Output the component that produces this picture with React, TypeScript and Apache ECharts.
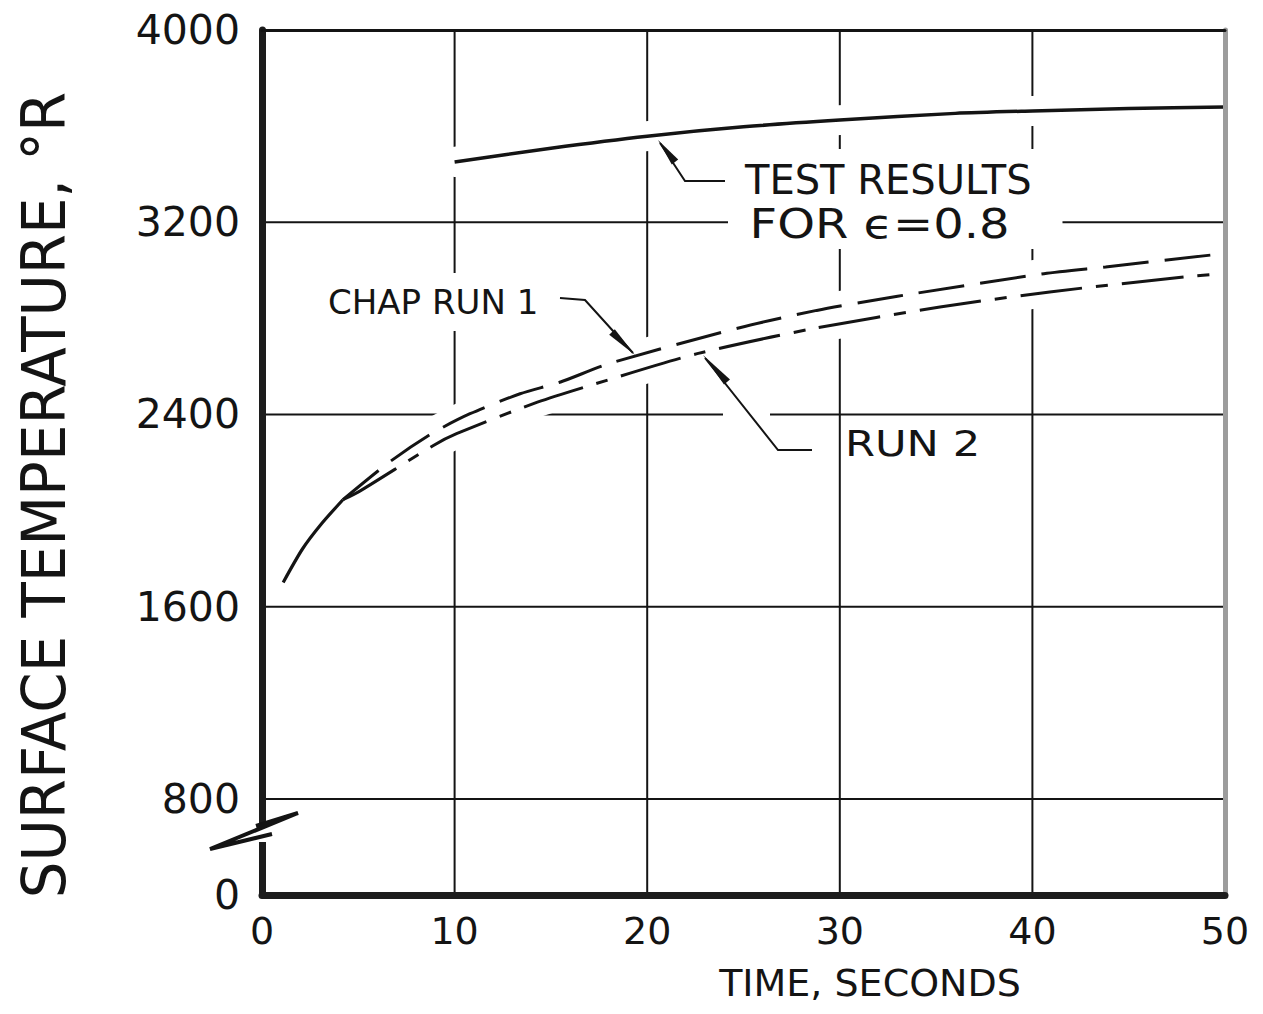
import React, { useEffect, useRef } from 'react';
import * as echarts from 'echarts';

// ---- data ----
const xTicks = [0, 10, 20, 30, 40, 50];
const yTicks = [0, 800, 1600, 2400, 3200, 4000];

// solid "test results for e = 0.8"
const testTime = [10, 15, 20, 25, 30, 36, 40, 45, 50];
const testTemp = [3451, 3508, 3558, 3597, 3625, 3653, 3663, 3673, 3680];

// common solid start of both CHAP runs
const startTime = [1.1, 2.1, 3.1, 4.2];
const startTemp = [1701, 1840, 1946, 2045];

// CHAP run 1 (long dashes)
const run1Time = [4.2, 6.6, 8.8, 10.8, 13.4, 15.5, 18.0, 24.8, 28.8, 33.0, 40.6, 43.8, 50];
const run1Temp = [2045, 2201, 2320, 2403, 2486, 2535, 2611, 2761, 2833, 2892, 2986, 3014, 3070];

// run 2 (dash-dot)
const run2Time = [4.2, 5.1, 8.9, 10.1, 14.3, 17.9, 22.6, 28.6, 35.2, 40.9, 47.9, 50];
const run2Temp = [2045, 2082, 2271, 2320, 2451, 2542, 2653, 2757, 2847, 2910, 2972, 2986];

const zip = (a: number[], b: number[]) => a.map((v, i) => [v, b[i]]);

const INK = '#141414';
const FONT = 'DejaVu Sans';

export default function App() {
  const ref = useRef<HTMLDivElement>(null);

  useEffect(() => {
    if (!ref.current) return;
    const chart = echarts.init(ref.current, undefined, { renderer: 'svg' });

    const yMin = 400; // the broken axis: bottom edge stands for 0
    const xMin = xTicks[0];
    const xMax = xTicks[xTicks.length - 1];
    const yMax = yTicks[yTicks.length - 1];

    // grid lines drawn as series so that the white bands below can interrupt them
    const gridLine = (data: number[][]) => ({
      type: 'line',
      data,
      symbol: 'none',
      showSymbol: false,
      silent: true,
      z: 1,
      lineStyle: { color: INK, width: 2 },
    });
    const hGrid = yTicks
      .filter((v) => v > yMin && v < yMax)
      .map((v) => gridLine([[xMin, v], [xMax, v]]));
    const vGrid = xTicks.slice(1, -1).map((v) => gridLine([[v, yMin], [v, yMax]]));

    // white band under each curve: the hand-drawn grid stops short of the curves
    const halo = (data: number[][]) => ({
      type: 'line',
      data,
      symbol: 'none',
      showSymbol: false,
      smooth: 0.25,
      silent: true,
      z: 2,
      lineStyle: { color: '#ffffff', width: 30, cap: 'round' },
    });

    const curve = (data: number[][], type: any, width: number) => ({
      type: 'line',
      data,
      symbol: 'none',
      showSymbol: false,
      smooth: 0.25,
      silent: true,
      z: 3,
      lineStyle: { color: INK, width, type, cap: 'butt' },
    });

    const testData = zip(testTime, testTemp);
    const startData = zip(startTime, startTemp);
    const run1Data = zip(run1Time, run1Temp);
    const run2Data = zip(run2Time, run2Temp);

    const option: any = {
      animation: false,
      backgroundColor: '#ffffff',
      textStyle: { fontFamily: FONT },
      grid: { left: 262, right: 38, top: 30, bottom: 119, outerBoundsMode: 'none' },
      xAxis: [
        {
          type: 'value',
          z: 10,
          min: xMin,
          max: xMax,
          interval: 10,
          axisLine: { show: true, onZero: false, lineStyle: { color: '#1c1c1c', width: 7 } },
          axisTick: { show: false },
          axisLabel: { fontSize: 38, color: INK, margin: 17, fontFamily: FONT },
          splitLine: { show: false },
        },
        {
          type: 'value',
          z: 10,
          position: 'top',
          min: xMin,
          max: xMax,
          axisLine: { show: true, onZero: false, lineStyle: { color: INK, width: 3 } },
          axisTick: { show: false },
          axisLabel: { show: false },
          splitLine: { show: false },
        },
      ],
      yAxis: [
        {
          type: 'value',
          z: 10,
          min: yMin,
          max: yMax,
          interval: 400,
          axisLine: { show: true, onZero: false, lineStyle: { color: '#1c1c1c', width: 7 } },
          axisTick: { show: false },
          axisLabel: {
            fontSize: 41,
            color: INK,
            margin: 22,
            fontFamily: FONT,
            formatter: (v: number) =>
              v === yMin ? String(yTicks[0]) : yTicks.includes(v) ? String(v) : '',
          },
          splitLine: { show: false },
        },
        {
          type: 'value',
          z: 10,
          position: 'right',
          min: yMin,
          max: yMax,
          interval: 400,
          axisLine: { show: true, onZero: false, lineStyle: { color: '#9c9c9c', width: 5 } },
          axisTick: { show: false },
          axisLabel: { show: false },
          splitLine: { show: false },
        },
      ],
      series: [
        ...hGrid,
        ...vGrid,
        halo(testData),
        halo(startData),
        halo(run1Data),
        halo(run2Data),
        curve(testData, 'solid', 3.5),
        curve(startData, 'solid', 3.2),
        curve(run1Data, [46, 16], 3),
        curve(run2Data, [62, 14, 12, 14], 3),
      ],
      graphic: [
        // axis break on the y axis
        { type: 'rect', z: 100, shape: { x: 254, y: 823, width: 16, height: 19 }, style: { fill: '#ffffff' } },
        {
          type: 'polyline',
          z: 101,
          shape: { points: [[256, 826], [298, 813], [210, 849], [272, 834]] },
          style: { stroke: INK, lineWidth: 4, fill: null, lineJoin: 'miter' },
        },
        // y axis title
        {
          type: 'text',
          z: 100,
          x: 44,
          y: 495,
          rotation: Math.PI / 2,
          scaleX: 1.07,
          scaleY: 1.12,
          style: {
            text: 'SURFACE TEMPERATURE, °R',
            fontSize: 54,
            fontFamily: FONT,
            fill: INK,
            align: 'center',
            verticalAlign: 'middle',
          },
        },
        // x axis title
        {
          type: 'text',
          z: 100,
          x: 870,
          y: 983,
          style: {
            text: 'TIME, SECONDS',
            fontSize: 38,
            fontFamily: FONT,
            fill: INK,
            align: 'center',
            verticalAlign: 'middle',
          },
        },
        // test results annotation
        {
          type: 'text',
          z: 100,
          x: 737,
          y: 180,
          style: {
            text: 'TEST RESULTS',
            fontSize: 40,
            fontFamily: FONT,
            fill: INK,
            align: 'left',
            verticalAlign: 'middle',
            backgroundColor: '#ffffff',
            padding: [18, 8, 4, 8],
          },
        },
        {
          type: 'text',
          z: 100,
          x: 728,
          y: 224,
          scaleX: 1.2,
          style: {
            text: 'FOR ϵ=0.8',
            fontSize: 40,
            fontFamily: FONT,
            fill: INK,
            align: 'left',
            verticalAlign: 'middle',
            backgroundColor: '#ffffff',
            padding: [4, 44, 6, 18],
          },
        },
        {
          type: 'polyline',
          z: 101,
          shape: { points: [[660, 143], [685, 181], [725, 181]] },
          style: { stroke: INK, lineWidth: 2, fill: null },
        },
        {
          type: 'polygon',
          z: 101,
          shape: { points: [[658, 140], [671.8, 164.4], [678.2, 159.6]] },
          style: { fill: INK },
        },
        // CHAP RUN 1 annotation
        {
          type: 'text',
          z: 100,
          x: 324,
          y: 302,
          style: {
            text: 'CHAP RUN 1',
            fontSize: 34,
            fontFamily: FONT,
            fill: INK,
            align: 'left',
            verticalAlign: 'middle',
            backgroundColor: '#ffffff',
            padding: [12, 4, 12, 4],
          },
        },
        {
          type: 'polyline',
          z: 101,
          shape: { points: [[560, 298], [585, 300], [633, 353]] },
          style: { stroke: INK, lineWidth: 2, fill: null },
        },
        {
          type: 'polygon',
          z: 101,
          shape: { points: [[635, 355], [609.2, 334.8], [614.8, 329.2]] },
          style: { fill: INK },
        },
        // RUN 2 annotation
        { type: 'rect', z: 99, shape: { x: 723, y: 408, width: 47, height: 9 }, style: { fill: '#ffffff' } },
        {
          type: 'text',
          z: 100,
          x: 845,
          y: 443,
          scaleX: 1.2,
          style: {
            text: 'RUN 2',
            fontSize: 36,
            fontFamily: FONT,
            fill: INK,
            align: 'left',
            verticalAlign: 'middle',
          },
        },
        {
          type: 'polyline',
          z: 101,
          shape: { points: [[705, 358], [778, 450], [812, 450]] },
          style: { stroke: INK, lineWidth: 2, fill: null },
        },
        {
          type: 'polygon',
          z: 101,
          shape: { points: [[703, 355], [724, 384.6], [730, 379.4]] },
          style: { fill: INK },
        },
      ],
    };

    chart.setOption(option);
    return () => chart.dispose();
  }, []);

  return (
    <div
      ref={ref}
      style={{ position: 'fixed', left: 0, top: 0, width: 1263, height: 1014, background: '#fff' }}
    />
  );
}
